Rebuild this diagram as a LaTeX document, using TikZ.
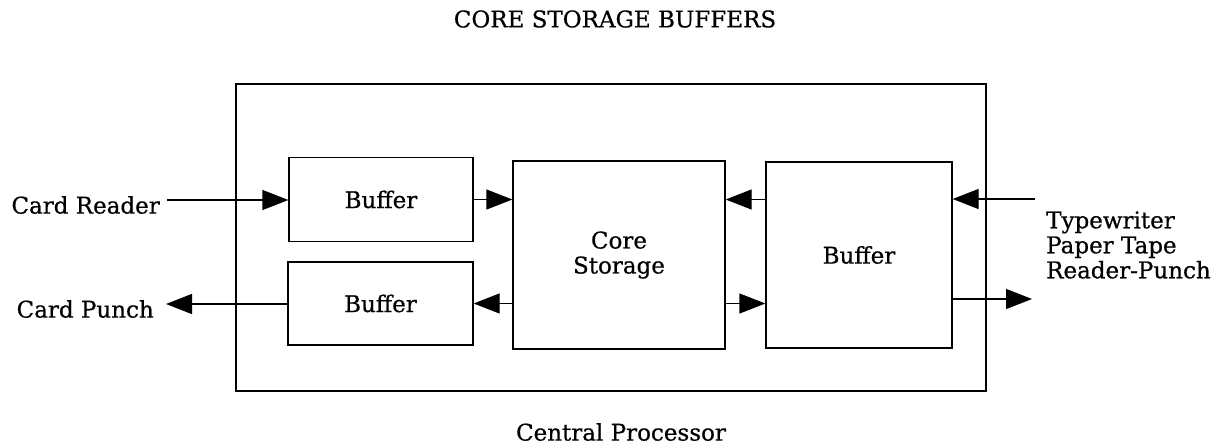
\documentclass[tikz,border=0pt]{standalone}
\usepackage{fontspec}
\setmainfont[FakeBold=0.6]{DejaVu Serif}
\usetikzlibrary{arrows.meta}
\begin{document}
\begin{tikzpicture}[x=1pt,y=-1pt,
  box/.style={draw,line width=1.3pt,inner sep=0pt,font=\fontsize{23}{25}\selectfont},
  lbl/.style={inner sep=0pt,font=\fontsize{23}{25}\selectfont},
  arr/.style={line width=1.3pt,-{Triangle[length=26pt,width=20pt]}}]
\useasboundingbox (0,0) rectangle (1225,447);
% outer frame
\node[box,minimum width=750pt,minimum height=307pt] (cp) at (611,237.5) {};
% boxes
\node[box,minimum width=184pt,minimum height=84pt] (b1) at (381,199.5) {Buffer};
\node[box,minimum width=185pt,minimum height=83pt] (b2) at (380.5,303.5) {Buffer};
\node[box,minimum width=212pt,minimum height=188pt,align=center] (core) at (619,255) {Core\\Storage};
\node[box,minimum width=186pt,minimum height=186pt] (b3) at (859,255) {Buffer};
% labels
\node[lbl,anchor=east] (cr) at (160,205) {Card Reader};
\node[lbl,anchor=east] (cpu) at (154,309) {Card Punch};
\node[lbl,anchor=west,align=left] (tw) at (1046,245) {Typewriter\\Paper Tape\\Reader-Punch};
\node[lbl] (title) at (615,19) {CORE STORAGE BUFFERS};
\node[lbl] (cpl) at (621,432) {Central Processor};
% connector end points
\coordinate (crs) at (167,200);
\coordinate (cpe) at (166,304);
\coordinate (tin) at (1035,199);
\coordinate (tout) at (1032,299);
% connectors
\draw[arr] (crs) -- (crs -| b1.west);
\draw[arr] (cpe -| b2.west) -- (cpe);
\draw[arr] (b1.east) -- (b1.east -| core.west);
\draw[arr] (core.west |- b2.east) -- (b2.east);
\draw[arr] (b3.west |- b1.east) -- (core.east |- b1.east);
\draw[arr] (core.east |- b2.east) -- (b3.west |- b2.east);
\draw[arr] (tin) -- (tin -| b3.east);
\draw[arr] (tout -| b3.east) -- (tout);
\end{tikzpicture}
\end{document}
